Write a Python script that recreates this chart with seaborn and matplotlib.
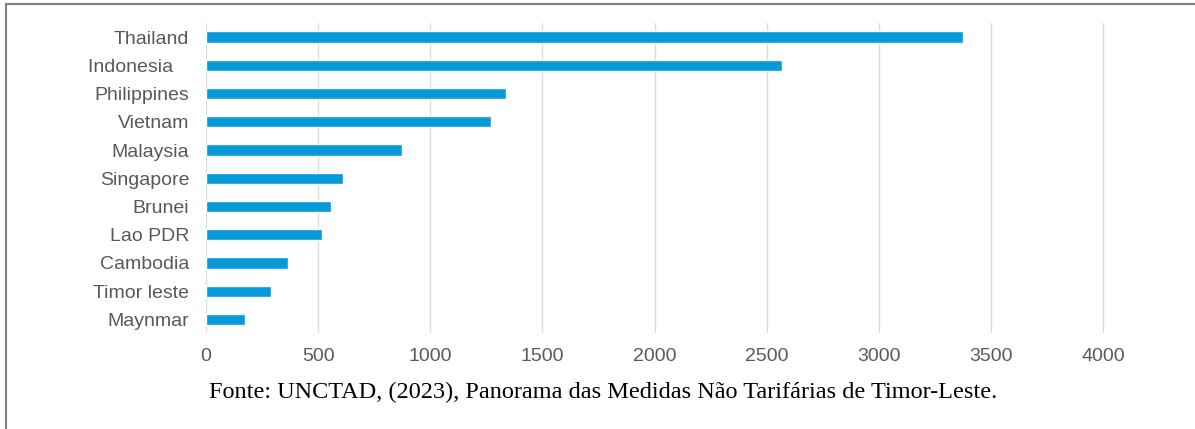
import pandas as pd
import matplotlib.pyplot as plt
import seaborn as sns
from matplotlib.lines import Line2D

# NTM counts per country
countries = ["Thailand", "Indonesia   ", "Philippines", "Vietnam", "Malaysia", "Singapore",
             "Brunei", "Lao PDR", "Cambodia", "Timor leste", "Maynmar"]
counts = [3376, 2569, 1336, 1271, 874, 611, 557, 519, 365, 289, 175]
xticks = [0, 500, 1000, 1500, 2000, 2500, 3000, 3500, 4000]
caption = "Fonte: UNCTAD, (2023), Panorama das Medidas Não Tarifárias de Timor-Leste."

df = pd.DataFrame({"country": countries, "count": counts})

sns.set_style("white")
plt.rcParams["font.family"] = ["Liberation Sans", "DejaVu Sans"]

fig = plt.figure(figsize=(11.95, 4.29), dpi=100)
# x axis runs a little past 4000 so the last gridline stays visible
ax = fig.add_axes([206 / 1195, 1 - 333 / 429, (1106 - 206) / 1195, (333 - 23) / 429])

sns.barplot(data=df, x="count", y="country", orient="h", color="#069AD8",
            width=0.4, saturation=1, ax=ax)

ax.set_xlim(0, 4000 * 900 / 897)
ax.set_ylim(10.48, -0.5)
ax.set_xticks(xticks)
ax.set_xticklabels([str(t) for t in xticks])
ax.grid(axis="x", color="#DCDCDC", linewidth=1)
ax.set_axisbelow(True)
for s in ax.spines.values():
    s.set_visible(False)
ax.tick_params(axis="both", length=0, labelsize=14, labelcolor="#595959")
ax.tick_params(axis="y", pad=12)
ax.tick_params(axis="x", pad=11)
ax.set_xlabel("")
ax.set_ylabel("")

fig.text(603 / 1195, 1 - 392 / 429, caption, ha="center", va="center",
         fontsize=17.5, family=["Liberation Serif", "DejaVu Serif"], color="black")

# thin grey frame (top and left edges visible)
fig.add_artist(Line2D([6.5 / 1195, 1.0], [1 - 3.5 / 429, 1 - 3.5 / 429],
                      transform=fig.transFigure, color="#808080", linewidth=1.5))
fig.add_artist(Line2D([6.5 / 1195, 6.5 / 1195], [0, 1 - 3.5 / 429],
                      transform=fig.transFigure, color="#808080", linewidth=1.5))

fig.savefig("out.png", dpi=100)
